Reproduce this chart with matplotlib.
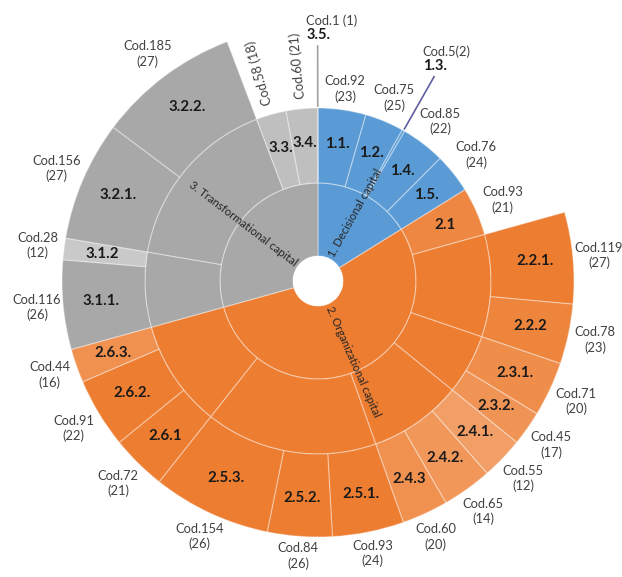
import numpy as np
import matplotlib
matplotlib.use("Agg")
import matplotlib.pyplot as plt
from matplotlib.patches import Wedge, Circle
from matplotlib.colors import to_rgb

# ---- data (clockwise from 12 o'clock) ----
cap_names = ["1. Decisional capital", "2. Organizational capital", "3. Transformational capital"]

leaf_labels = ["1.1.", "1.2.", "1.3.", "1.4.", "1.5.",
               "2.1", "2.2.1.", "2.2.2", "2.3.1.", "2.3.2.",
               "2.4.1.", "2.4.2.", "2.4.3", "2.5.1.", "2.5.2.", "2.5.3.",
               "2.6.1", "2.6.2.", "2.6.3.",
               "3.1.1.", "3.1.2", "3.2.1.", "3.2.2.", "3.3.", "3.4.", "3.5."]
leaf_groups = ["1.1", "1.2", "1.3", "1.4", "1.5",
               "2.1", "2.2", "2.2", "2.3", "2.3",
               "2.4", "2.4", "2.4", "2.5", "2.5", "2.5",
               "2.6", "2.6", "2.6",
               "3.1", "3.1", "3.2", "3.2", "3.3", "3.4", "3.5"]
leaf_depth = [2, 2, 2, 2, 2,
              2, 3, 3, 3, 3,
              3, 3, 3, 3, 3, 3,
              3, 3, 3,
              3, 3, 3, 3, 2, 2, 2]
leaf_cods = [92, 75, 5, 85, 76,
             93, 119, 78, 71, 45,
             55, 65, 60, 93, 84, 154,
             72, 91, 44,
             116, 28, 156, 185, 58, 60, 1]
leaf_scores = [23, 25, 2, 22, 24,
               21, 27, 23, 20, 17,
               12, 14, 20, 24, 26, 26,
               21, 22, 16,
               26, 12, 27, 27, 18, 21, 1]

# ---- style ----
base_colors = {"1": "#5B9BD5", "2": "#ED7D31", "3": "#A8A8A8"}
lighten = {"2.1": 0.08, "2.2.2": 0.06, "2.3.1.": 0.12, "2.3.2.": 0.18,
           "2.4.1.": 0.26, "2.4.2.": 0.2, "2.4.3": 0.15, "2.6.3.": 0.15,
           "3.1.2": 0.38, "3.3.": 0.27, "3.4.": 0.27}
rotated = {"3.3.", "3.4."}
leader = {"1.3.": "#5F5F9F", "3.5.": "#A0A0A0"}

plt.rcParams['font.family'] = ['Lato', 'DejaVu Sans']

cx, cy = 318, 296
r0, r1, r2, r3 = 25, 98, 173, 256
edge = (1, 1, 1, 0.35)


def mix(c, f):
    c = np.array(to_rgb(c))
    return tuple(c + (1 - c) * f)


fig = plt.figure(figsize=(6.22, 5.77), dpi=100)
ax = fig.add_axes([0, 0, 1, 1])
ax.set_xlim(0, 622)
ax.set_ylim(0, 577)
ax.axis("off")

cods = np.array(leaf_cods, dtype=float)
unit = 360.0 / cods.sum()
ends = 90 - np.cumsum(cods) * unit
starts = ends + cods * unit


def polar(r, a):
    t = np.radians(a)
    return cx + r * np.cos(t), cy + r * np.sin(t)


# inner ring: capitals
for k, name in enumerate(cap_names):
    idx = [i for i, g in enumerate(leaf_groups) if g[0] == str(k + 1)]
    a1, a2 = ends[idx[-1]], starts[idx[0]]
    ax.add_patch(Wedge((cx, cy), r1, a1, a2, width=r1 - r0,
                       facecolor=base_colors[str(k + 1)], edgecolor=edge, lw=0.9))
    mid = (a1 + a2) / 2
    x, y = polar(r0 + 3, mid)
    if np.cos(np.radians(mid)) >= 0:
        ax.text(x, y, name, rotation=mid, rotation_mode="anchor",
                ha="left", va="center", fontsize=8.2, color="#262626")
    else:
        ax.text(x, y, name, rotation=mid - 180, rotation_mode="anchor",
                ha="right", va="center", fontsize=8.2, color="#262626")

# middle ring: groups
groups = []
for i, g in enumerate(leaf_groups):
    if not groups or groups[-1][0] != g:
        groups.append([g, i, i])
    else:
        groups[-1][2] = i
for g, i0, i1 in groups:
    a1, a2 = ends[i1], starts[i0]
    col = base_colors[g[0]]
    if leaf_depth[i0] == 2:
        col = mix(col, lighten.get(leaf_labels[i0], 0))
    ax.add_patch(Wedge((cx, cy), r2, a1, a2, width=r2 - r1,
                       facecolor=col, edgecolor=edge, lw=0.9))

# outer ring: leaves of depth 3
for i, lab in enumerate(leaf_labels):
    if leaf_depth[i] == 3:
        col = mix(base_colors[lab[0]], lighten.get(lab, 0))
        ax.add_patch(Wedge((cx, cy), r3, ends[i], starts[i], width=r3 - r2,
                           facecolor=col, edgecolor=edge, lw=0.9))

ax.add_patch(Circle((cx, cy), r0, facecolor="white", edgecolor="none"))

# labels
for i, lab in enumerate(leaf_labels):
    mid = (ends[i] + starts[i]) / 2
    t = np.radians(mid)
    r_out = r2 if leaf_depth[i] == 2 else r3
    r_in = r1 if leaf_depth[i] == 2 else r2
    cod_txt = "Cod.%d" % leaf_cods[i]
    if lab in leader:
        x0, y0 = polar(r_out + 2, mid)
        x1, y1 = polar(r_out + 62, mid)
        ax.plot([x0, x1], [y0, y1], color=leader[lab], lw=1.2)
        sep = "" if lab == "1.3." else " "
        ax.text(x1 - 11, y1 + 4, lab, ha="left", va="bottom",
                fontsize=10.5, fontweight="bold", color="#1a1a1a")
        ax.text(x1 - 12, y1 + 19, cod_txt + sep + "(%d)" % leaf_scores[i],
                ha="left", va="bottom", fontsize=9.3, color="#404040")
        continue
    x, y = polar((r_in + r_out) / 2 + 3, mid)
    ax.text(x, y, lab, ha="center", va="center", fontsize=10.8,
            fontweight="bold", color="#1a1a1a")
    if lab in rotated:
        x, y = polar(r_out + 43, mid)
        ax.text(x, y, cod_txt + " (%d)" % leaf_scores[i], rotation=mid,
                ha="center", va="center", fontsize=9.3, color="#404040")
    else:
        rl = r_out + 4 + 21 * abs(np.cos(t)) + 14 * abs(np.sin(t))
        x, y = polar(rl, mid)
        ax.text(x, y, cod_txt + "\n(%d)" % leaf_scores[i], ha="center",
                va="center", fontsize=9.3, color="#404040", linespacing=1.3)

fig.savefig("out.png", dpi=100)
